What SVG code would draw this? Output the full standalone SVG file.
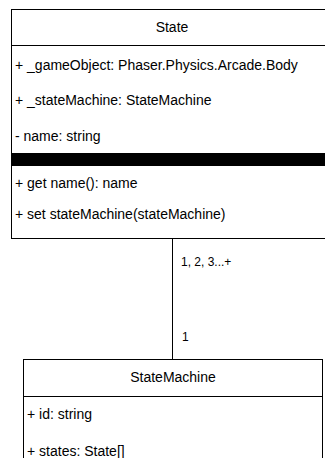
<svg xmlns="http://www.w3.org/2000/svg" width="325" height="458" viewBox="0 0 325 458">
<style>
text{font-family:"Liberation Sans",Arial,sans-serif;font-size:14px;fill:#000}
.t{text-anchor:middle}
.lbl{font-size:12px}
.box{fill:#fff;stroke:#000;stroke-width:1}
.sep{stroke:#000;stroke-width:1}
.edge{stroke:#000;stroke-width:1;fill:none}
</style>
<rect width="325" height="458" fill="#fff"/>
<g id="edges">
<path class="edge" d="M172.5 238.5 V359.5"/>
<text class="lbl" x="181" y="266">1, 2, 3...+</text>
<text class="lbl" x="182" y="341">1</text>
</g>
<g id="State">
<rect class="box" x="11.5" y="9.5" width="322" height="229"/>
<line class="sep" x1="11.5" y1="45.5" x2="333.5" y2="45.5"/>
<rect x="11.5" y="153" width="322" height="13" fill="#000"/>
<text class="t" x="172" y="32">State</text>
<text x="15" y="70">+ _gameObject: Phaser.Physics.Arcade.Body</text>
<text x="15" y="105">+ _stateMachine: StateMachine</text>
<text x="15" y="141">- name: string</text>
<text x="15" y="188">+ get name(): name</text>
<text x="15" y="219">+ set stateMachine(stateMachine)</text>
</g>
<g id="StateMachine">
<rect class="box" x="23.5" y="359.5" width="299" height="110"/>
<line class="sep" x1="23.5" y1="396.5" x2="322.5" y2="396.5"/>
<text class="t" x="173" y="382">StateMachine</text>
<text x="27" y="419">+ id: string</text>
<text x="27" y="456">+ states: State[]</text>
</g>
</svg>
